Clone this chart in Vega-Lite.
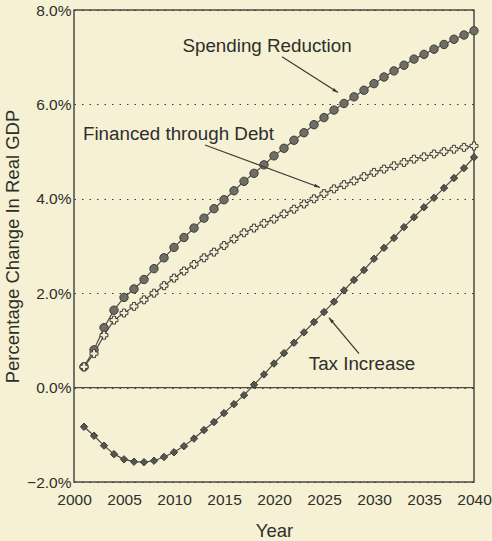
{
  "$schema": "https://vega.github.io/schema/vega-lite/v6.json",
  "autosize": {"type": "none"},
  "padding": {"left": 74, "top": 10, "right": 18, "bottom": 59},
  "width": 400,
  "height": 472,
  "background": "#f6f1d4",
  "config": {
    "view": {"stroke": "#4a4a45", "strokeWidth": 1.5, "fill": "#f6f1d4"},
    "font": "Liberation Sans",
    "axis": {"labelFont": "Liberation Sans", "titleFont": "Liberation Sans", "labelColor": "#2e2e2a", "titleColor": "#2e2e2a", "titleFontWeight": "normal", "labelFlush": false},
    "scale": {"continuousPadding": 0}
  },
  "resolve": {"scale": {"x": "shared", "y": "shared"}},
  "datasets": {
    "series": [
      {"year": 2001, "series": "Spending Reduction", "value": 0.44},
      {"year": 2002, "series": "Spending Reduction", "value": 0.80},
      {"year": 2003, "series": "Spending Reduction", "value": 1.27},
      {"year": 2004, "series": "Spending Reduction", "value": 1.64},
      {"year": 2005, "series": "Spending Reduction", "value": 1.91},
      {"year": 2006, "series": "Spending Reduction", "value": 2.09},
      {"year": 2007, "series": "Spending Reduction", "value": 2.29},
      {"year": 2008, "series": "Spending Reduction", "value": 2.52},
      {"year": 2009, "series": "Spending Reduction", "value": 2.75},
      {"year": 2010, "series": "Spending Reduction", "value": 2.97},
      {"year": 2011, "series": "Spending Reduction", "value": 3.18},
      {"year": 2012, "series": "Spending Reduction", "value": 3.38},
      {"year": 2013, "series": "Spending Reduction", "value": 3.59},
      {"year": 2014, "series": "Spending Reduction", "value": 3.79},
      {"year": 2015, "series": "Spending Reduction", "value": 3.98},
      {"year": 2016, "series": "Spending Reduction", "value": 4.17},
      {"year": 2017, "series": "Spending Reduction", "value": 4.37},
      {"year": 2018, "series": "Spending Reduction", "value": 4.54},
      {"year": 2019, "series": "Spending Reduction", "value": 4.72},
      {"year": 2020, "series": "Spending Reduction", "value": 4.91},
      {"year": 2021, "series": "Spending Reduction", "value": 5.07},
      {"year": 2022, "series": "Spending Reduction", "value": 5.24},
      {"year": 2023, "series": "Spending Reduction", "value": 5.40},
      {"year": 2024, "series": "Spending Reduction", "value": 5.57},
      {"year": 2025, "series": "Spending Reduction", "value": 5.72},
      {"year": 2026, "series": "Spending Reduction", "value": 5.88},
      {"year": 2027, "series": "Spending Reduction", "value": 6.02},
      {"year": 2028, "series": "Spending Reduction", "value": 6.16},
      {"year": 2029, "series": "Spending Reduction", "value": 6.30},
      {"year": 2030, "series": "Spending Reduction", "value": 6.44},
      {"year": 2031, "series": "Spending Reduction", "value": 6.58},
      {"year": 2032, "series": "Spending Reduction", "value": 6.71},
      {"year": 2033, "series": "Spending Reduction", "value": 6.83},
      {"year": 2034, "series": "Spending Reduction", "value": 6.96},
      {"year": 2035, "series": "Spending Reduction", "value": 7.06},
      {"year": 2036, "series": "Spending Reduction", "value": 7.17},
      {"year": 2037, "series": "Spending Reduction", "value": 7.27},
      {"year": 2038, "series": "Spending Reduction", "value": 7.38},
      {"year": 2039, "series": "Spending Reduction", "value": 7.47},
      {"year": 2040, "series": "Spending Reduction", "value": 7.56},
      {"year": 2001, "series": "Financed through Debt", "value": 0.44},
      {"year": 2002, "series": "Financed through Debt", "value": 0.72},
      {"year": 2003, "series": "Financed through Debt", "value": 1.11},
      {"year": 2004, "series": "Financed through Debt", "value": 1.43},
      {"year": 2005, "series": "Financed through Debt", "value": 1.58},
      {"year": 2006, "series": "Financed through Debt", "value": 1.72},
      {"year": 2007, "series": "Financed through Debt", "value": 1.86},
      {"year": 2008, "series": "Financed through Debt", "value": 2.00},
      {"year": 2009, "series": "Financed through Debt", "value": 2.16},
      {"year": 2010, "series": "Financed through Debt", "value": 2.32},
      {"year": 2011, "series": "Financed through Debt", "value": 2.47},
      {"year": 2012, "series": "Financed through Debt", "value": 2.61},
      {"year": 2013, "series": "Financed through Debt", "value": 2.75},
      {"year": 2014, "series": "Financed through Debt", "value": 2.87},
      {"year": 2015, "series": "Financed through Debt", "value": 3.01},
      {"year": 2016, "series": "Financed through Debt", "value": 3.15},
      {"year": 2017, "series": "Financed through Debt", "value": 3.28},
      {"year": 2018, "series": "Financed through Debt", "value": 3.38},
      {"year": 2019, "series": "Financed through Debt", "value": 3.48},
      {"year": 2020, "series": "Financed through Debt", "value": 3.57},
      {"year": 2021, "series": "Financed through Debt", "value": 3.68},
      {"year": 2022, "series": "Financed through Debt", "value": 3.78},
      {"year": 2023, "series": "Financed through Debt", "value": 3.89},
      {"year": 2024, "series": "Financed through Debt", "value": 4.00},
      {"year": 2025, "series": "Financed through Debt", "value": 4.11},
      {"year": 2026, "series": "Financed through Debt", "value": 4.21},
      {"year": 2027, "series": "Financed through Debt", "value": 4.30},
      {"year": 2028, "series": "Financed through Debt", "value": 4.38},
      {"year": 2029, "series": "Financed through Debt", "value": 4.47},
      {"year": 2030, "series": "Financed through Debt", "value": 4.56},
      {"year": 2031, "series": "Financed through Debt", "value": 4.63},
      {"year": 2032, "series": "Financed through Debt", "value": 4.70},
      {"year": 2033, "series": "Financed through Debt", "value": 4.77},
      {"year": 2034, "series": "Financed through Debt", "value": 4.84},
      {"year": 2035, "series": "Financed through Debt", "value": 4.89},
      {"year": 2036, "series": "Financed through Debt", "value": 4.95},
      {"year": 2037, "series": "Financed through Debt", "value": 5.00},
      {"year": 2038, "series": "Financed through Debt", "value": 5.05},
      {"year": 2039, "series": "Financed through Debt", "value": 5.09},
      {"year": 2040, "series": "Financed through Debt", "value": 5.12},
      {"year": 2001, "series": "Tax Increase", "value": -0.83},
      {"year": 2002, "series": "Tax Increase", "value": -1.02},
      {"year": 2003, "series": "Tax Increase", "value": -1.23},
      {"year": 2004, "series": "Tax Increase", "value": -1.41},
      {"year": 2005, "series": "Tax Increase", "value": -1.52},
      {"year": 2006, "series": "Tax Increase", "value": -1.57},
      {"year": 2007, "series": "Tax Increase", "value": -1.58},
      {"year": 2008, "series": "Tax Increase", "value": -1.55},
      {"year": 2009, "series": "Tax Increase", "value": -1.47},
      {"year": 2010, "series": "Tax Increase", "value": -1.37},
      {"year": 2011, "series": "Tax Increase", "value": -1.24},
      {"year": 2012, "series": "Tax Increase", "value": -1.08},
      {"year": 2013, "series": "Tax Increase", "value": -0.90},
      {"year": 2014, "series": "Tax Increase", "value": -0.73},
      {"year": 2015, "series": "Tax Increase", "value": -0.54},
      {"year": 2016, "series": "Tax Increase", "value": -0.35},
      {"year": 2017, "series": "Tax Increase", "value": -0.16},
      {"year": 2018, "series": "Tax Increase", "value": 0.06},
      {"year": 2019, "series": "Tax Increase", "value": 0.28},
      {"year": 2020, "series": "Tax Increase", "value": 0.51},
      {"year": 2021, "series": "Tax Increase", "value": 0.73},
      {"year": 2022, "series": "Tax Increase", "value": 0.95},
      {"year": 2023, "series": "Tax Increase", "value": 1.17},
      {"year": 2024, "series": "Tax Increase", "value": 1.39},
      {"year": 2025, "series": "Tax Increase", "value": 1.60},
      {"year": 2026, "series": "Tax Increase", "value": 1.82},
      {"year": 2027, "series": "Tax Increase", "value": 2.06},
      {"year": 2028, "series": "Tax Increase", "value": 2.28},
      {"year": 2029, "series": "Tax Increase", "value": 2.49},
      {"year": 2030, "series": "Tax Increase", "value": 2.73},
      {"year": 2031, "series": "Tax Increase", "value": 2.96},
      {"year": 2032, "series": "Tax Increase", "value": 3.17},
      {"year": 2033, "series": "Tax Increase", "value": 3.40},
      {"year": 2034, "series": "Tax Increase", "value": 3.61},
      {"year": 2035, "series": "Tax Increase", "value": 3.82},
      {"year": 2036, "series": "Tax Increase", "value": 4.02},
      {"year": 2037, "series": "Tax Increase", "value": 4.23},
      {"year": 2038, "series": "Tax Increase", "value": 4.44},
      {"year": 2039, "series": "Tax Increase", "value": 4.65},
      {"year": 2040, "series": "Tax Increase", "value": 4.88}
    ],
    "notes": [
      {"label": "Spending Reduction", "tx": 2019.3, "ty": 7.24, "ax1": 2020.8, "ay1": 7.01, "ax2": 2026.4, "ay2": 6.25},
      {"label": "Financed through Debt", "tx": 2010.45, "ty": 5.37, "ax1": 2013.1, "ay1": 5.14, "ax2": 2024.6, "ay2": 4.24},
      {"label": "Tax Increase", "tx": 2028.8, "ty": 0.49, "ax1": 2028.5, "ay1": 0.72, "ax2": 2025.5, "ay2": 1.48}
    ],
    "zero": [{"value": 0}]
  },
  "layer": [
    {
      "data": {"name": "zero"},
      "mark": {"type": "rule", "color": "#4a4a45", "strokeWidth": 1.3},
      "encoding": {
        "y": {"field": "value", "type": "quantitative", "scale": {"domain": [-2, 8], "nice": false, "zero": false, "padding": 0},
          "axis": {"values": [-2, 0, 2, 4, 6, 8], "labelExpr": "format(datum.value, '.1f') + '%'", "labelFontSize": 15.5, "labelPadding": 3, "ticks": false, "domain": false,
            "grid": true, "gridDash": [1.5, 6], "gridColor": "#3a3a36", "gridWidth": 1.2, "gridOpacity": 1, "labelOverlap": false,
            "title": "Percentage Change In Real GDP", "titleFontSize": 18.5, "titlePadding": 4}}
      }
    },
    {
      "data": {"name": "series"},
      "mark": {"type": "line", "color": "#4d4d48", "strokeWidth": 1.2},
      "encoding": {
        "x": {"field": "year", "type": "quantitative", "scale": {"domain": [2000, 2040], "nice": false, "zero": false, "padding": 0},
          "axis": {"values": [2000, 2005, 2010, 2015, 2020, 2025, 2030, 2035, 2040], "format": "d", "labelFontSize": 15.5, "labelPadding": 10, "ticks": false, "domain": false, "grid": false, "labelOverlap": false,
            "title": "Year", "titleFontSize": 18.5, "titlePadding": 14}},
        "y": {"field": "value", "type": "quantitative"},
        "detail": {"field": "series"}
      }
    },
    {
      "data": {"name": "series"},
      "mark": {"type": "point", "filled": false, "stroke": "#3c3c38", "strokeWidth": 1, "opacity": 1},
      "encoding": {
        "x": {"field": "year", "type": "quantitative"},
        "y": {"field": "value", "type": "quantitative"},
        "shape": {"field": "series", "type": "nominal", "scale": {"domain": ["Spending Reduction", "Financed through Debt", "Tax Increase"], "range": ["circle", "cross", "diamond"]}, "legend": null},
        "fill": {"field": "series", "type": "nominal", "scale": {"domain": ["Spending Reduction", "Financed through Debt", "Tax Increase"], "range": ["#6e6e66", "#f3eed4", "#55554f"]}, "legend": null},
        "size": {"field": "series", "type": "nominal", "scale": {"domain": ["Spending Reduction", "Financed through Debt", "Tax Increase"], "range": [70, 55, 32]}, "legend": null}
      }
    },
    {
      "data": {"name": "notes"},
      "mark": {"type": "rule", "color": "#3a3a36", "strokeWidth": 1.2},
      "encoding": {
        "x": {"field": "ax1", "type": "quantitative"},
        "y": {"field": "ay1", "type": "quantitative"},
        "x2": {"field": "ax2"},
        "y2": {"field": "ay2"}
      }
    },
    {
      "data": {"name": "notes"},
      "transform": [{"filter": "datum.label == 'Spending Reduction'"}],
      "mark": {"type": "point", "shape": "M0,0L0.45,1.5L-0.45,1.5Z", "filled": true, "color": "#3a3a36", "size": 60, "angle": 122.7, "opacity": 1},
      "encoding": {"x": {"field": "ax2", "type": "quantitative"}, "y": {"field": "ay2", "type": "quantitative"}}
    },
    {
      "data": {"name": "notes"},
      "transform": [{"filter": "datum.label == 'Financed through Debt'"}],
      "mark": {"type": "point", "shape": "M0,0L0.45,1.5L-0.45,1.5Z", "filled": true, "color": "#3a3a36", "size": 60, "angle": 110.4, "opacity": 1},
      "encoding": {"x": {"field": "ax2", "type": "quantitative"}, "y": {"field": "ay2", "type": "quantitative"}}
    },
    {
      "data": {"name": "notes"},
      "transform": [{"filter": "datum.label == 'Tax Increase'"}],
      "mark": {"type": "point", "shape": "M0,0L0.45,1.5L-0.45,1.5Z", "filled": true, "color": "#3a3a36", "size": 60, "angle": 320.2, "opacity": 1},
      "encoding": {"x": {"field": "ax2", "type": "quantitative"}, "y": {"field": "ay2", "type": "quantitative"}}
    },
    {
      "data": {"name": "notes"},
      "mark": {"type": "text", "fontSize": 18.8, "align": "center", "baseline": "middle", "color": "#2e2e2a", "font": "Liberation Sans"},
      "encoding": {
        "x": {"field": "tx", "type": "quantitative"},
        "y": {"field": "ty", "type": "quantitative"},
        "text": {"field": "label"}
      }
    }
  ]
}
